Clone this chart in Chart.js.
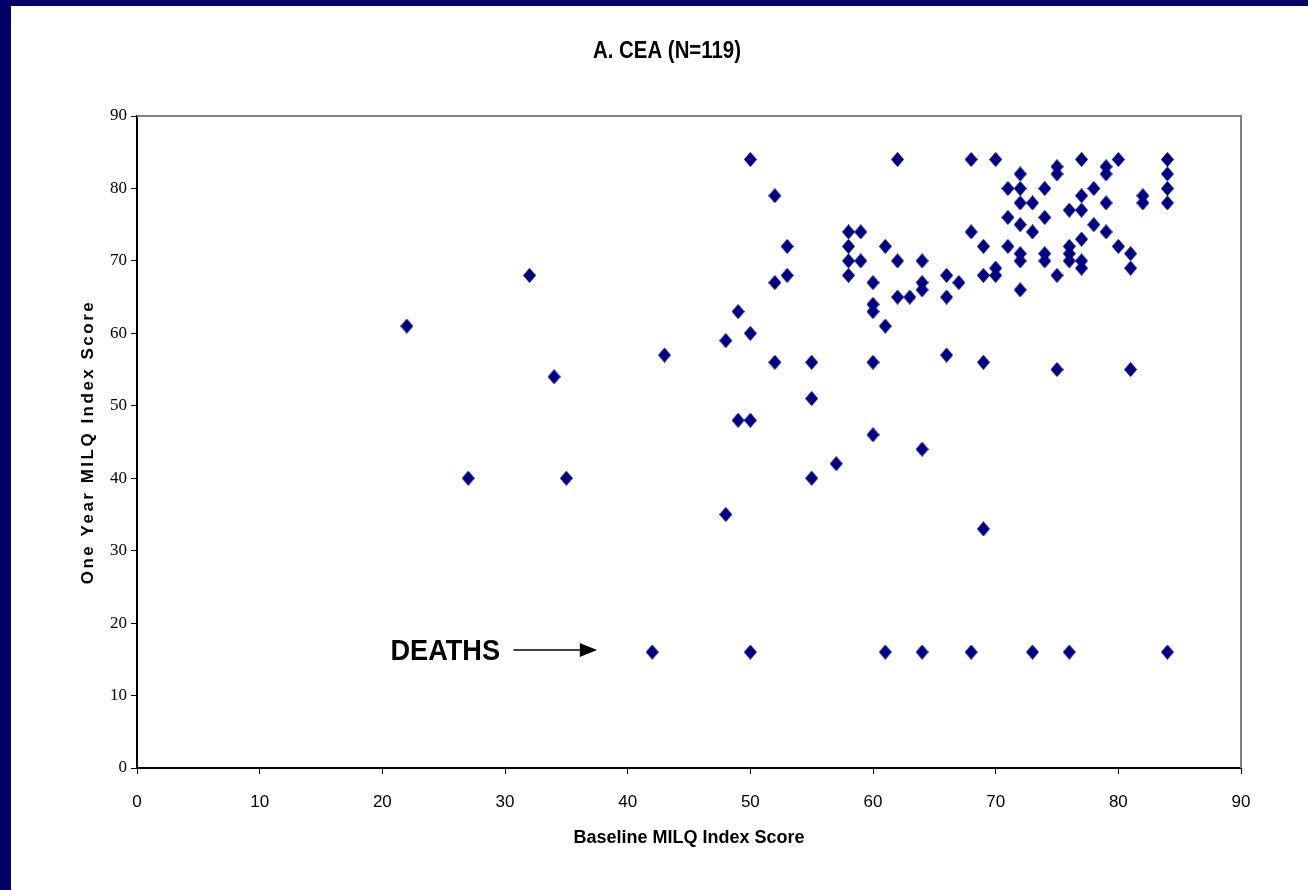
<!DOCTYPE html>
<html>
<head>
<meta charset="utf-8">
<script src="https://cdn.jsdelivr.net/npm/chart.js@4/dist/chart.umd.min.js"></script>
<style>
    html, body { margin: 0; padding: 0; background: #fff; }
    #frame {
        position: absolute; left: 0; top: 0;
        width: 1297px; height: 884px;
        border-left: 11px solid #000066;
        border-top: 6px solid #000066;
    }
</style>
</head>
<body>
<div id="frame"><canvas id="scatterChart" width="1297" height="884"></canvas></div>
<script>
// survivors: baseline score vs one-year score
const baselineScores = [
    22, 27, 32, 34, 35, 43, 48, 48, 49, 49,
    50, 50, 50, 52, 52, 52, 53, 53, 55, 55,
    55, 57, 60, 60, 61, 64, 66, 69, 69, 75,
    81, 62, 68, 70, 77, 80, 84, 75, 79, 75,
    79, 84, 72, 71, 72, 74, 78, 84, 82, 77,
    72, 73, 79, 82, 84, 76, 77, 71, 74, 72,
    78, 73, 79, 58, 59, 68, 77, 58, 61, 69,
    71, 80, 76, 81, 72, 74, 76, 58, 59, 62,
    64, 72, 74, 76, 77, 77, 81, 70, 70, 69,
    75, 58, 66, 60, 64, 64, 67, 72, 62, 63,
    66, 60, 60
];
const oneYearScores = [
    61, 40, 68, 54, 40, 57, 59, 35, 63, 48,
    60, 48, 84, 79, 67, 56, 72, 68, 56, 51,
    40, 42, 56, 46, 61, 44, 57, 56, 33, 55,
    55, 84, 84, 84, 84, 84, 84, 83, 83, 82,
    82, 82, 82, 80, 80, 80, 80, 80, 79, 79,
    78, 78, 78, 78, 78, 77, 77, 76, 76, 75,
    75, 74, 74, 74, 74, 74, 73, 72, 72, 72,
    72, 72, 72, 71, 71, 71, 71, 70, 70, 70,
    70, 70, 70, 70, 70, 69, 69, 69, 68, 68,
    68, 68, 68, 67, 67, 66, 67, 66, 65, 65,
    65, 64, 63
];
// deaths are plotted on a row of their own
const deathBaseline = [42, 50, 61, 64, 68, 73, 76, 84];
const deathScore = [16, 16, 16, 16, 16, 16, 16, 16];

const axisTicks = [0, 10, 20, 30, 40, 50, 60, 70, 80, 90];

const chartTitle = "A. CEA (N=119)";
const xTitle = "Baseline MILQ Index Score";
const yTitle = "One Year MILQ Index Score";
const deathLabel = "DEATHS";

const markerColor = "#000080";
const sansFont = "'Liberation Sans', Arial, sans-serif";

function toPoints(xs, ys) {
    return xs.map((x, i) => ({ x: x, y: ys[i] }));
}

// slightly tall diamond, like the original markers
function makeDiamond(w, h) {
    const cv = document.createElement("canvas");
    cv.width = w;
    cv.height = h;
    const g = cv.getContext("2d");
    g.fillStyle = markerColor;
    g.beginPath();
    g.moveTo(w / 2, 0);
    g.lineTo(w, h / 2);
    g.lineTo(w / 2, h);
    g.lineTo(0, h / 2);
    g.closePath();
    g.fill();
    return cv;
}
const diamond = makeDiamond(13, 15);

// title, y axis title, frame edges and the DEATHS arrow
const decorations = {
    id: "decorations",
    afterDraw(chart) {
        const c = chart.ctx;
        const area = chart.chartArea;
        const xs = chart.scales.x;
        const ys = chart.scales.y;
        c.save();

        // grey top and right edge of the plot box
        c.strokeStyle = "#808080";
        c.lineWidth = 2;
        c.beginPath();
        c.moveTo(area.left, area.top);
        c.lineTo(area.right, area.top);
        c.lineTo(area.right, area.bottom);
        c.stroke();

        c.fillStyle = "#000";
        c.textAlign = "center";
        c.textBaseline = "middle";

        // condensed title
        c.save();
        c.translate(656, 45);
        c.scale(0.85, 1);
        c.font = "bold 24px " + sansFont;
        c.fillText(chartTitle, 0, 0);
        c.restore();

        c.save();
        c.translate(77, (area.top + area.bottom) / 2);
        c.rotate(-Math.PI / 2);
        c.font = "bold 17px " + sansFont;
        c.letterSpacing = "2.5px";
        c.fillText(yTitle, 0, 0);
        c.restore();

        const yRow = ys.getPixelForValue(16);
        c.save();
        c.translate(xs.getPixelForValue(29.6), yRow);
        c.scale(0.97, 1.05);
        c.font = "bold 28px " + sansFont;
        c.textAlign = "right";
        c.fillText(deathLabel, 0, 0);
        c.restore();

        const x0 = xs.getPixelForValue(30.7);
        const xTip = xs.getPixelForValue(37.5);
        const xBase = xs.getPixelForValue(36.1);
        c.strokeStyle = "#000";
        c.lineWidth = 1.5;
        c.beginPath();
        c.moveTo(x0, yRow - 2);
        c.lineTo(xBase, yRow - 2);
        c.stroke();
        c.beginPath();
        c.moveTo(xBase, yRow - 9);
        c.lineTo(xTip, yRow - 2);
        c.lineTo(xBase, yRow + 5);
        c.closePath();
        c.fill();

        c.restore();
    }
};

const ctx = document.getElementById("scatterChart").getContext("2d");
const scatterChart = new Chart(ctx, {
    type: "scatter",
    data: {
        datasets: [{
            label: "Survivors",
            data: toPoints(baselineScores, oneYearScores),
            pointStyle: diamond,
            pointRadius: 7,
            backgroundColor: markerColor,
            borderColor: markerColor,
        }, {
            label: "Deaths",
            data: toPoints(deathBaseline, deathScore),
            pointStyle: diamond,
            pointRadius: 7,
            backgroundColor: markerColor,
            borderColor: markerColor,
        }],
    },
    options: {
        responsive: false,
        animation: false,
        layout: {
            padding: { top: 110, right: 67, bottom: 0, left: 0 }
        },
        plugins: {
            legend: { display: false },
            title: { display: false },
            tooltip: { enabled: false }
        },
        scales: {
            x: {
                type: "linear",
                min: 0,
                max: 90,
                afterBuildTicks: (scale) => {
                    scale.ticks = axisTicks.map(v => ({ value: v }));
                },
                afterFit: (scale) => { scale.height = 122; },
                border: { display: true, color: "#000", width: 2 },
                grid: {
                    drawOnChartArea: false,
                    drawTicks: true,
                    tickLength: 6,
                    color: "#000",
                    tickColor: "#000"
                },
                ticks: {
                    padding: 18,
                    color: "#000",
                    maxRotation: 0,
                    font: { family: sansFont, size: 17 }
                },
                title: {
                    display: true,
                    text: xTitle,
                    color: "#000",
                    padding: { top: 0, bottom: 41 },
                    font: { family: sansFont, size: 18, weight: "bold" }
                }
            },
            y: {
                type: "linear",
                min: 0,
                max: 90,
                afterBuildTicks: (scale) => {
                    scale.ticks = axisTicks.map(v => ({ value: v }));
                },
                afterFit: (scale) => { scale.width = 126; },
                border: { display: true, color: "#000", width: 2 },
                grid: {
                    drawOnChartArea: false,
                    drawTicks: true,
                    tickLength: 6,
                    color: "#000",
                    tickColor: "#000"
                },
                ticks: {
                    padding: 4,
                    color: "#000",
                    font: { family: "'Liberation Serif', 'Times New Roman', serif", size: 17 }
                },
                title: { display: false }
            }
        }
    },
    plugins: [decorations]
});
</script>
</body>
</html>
